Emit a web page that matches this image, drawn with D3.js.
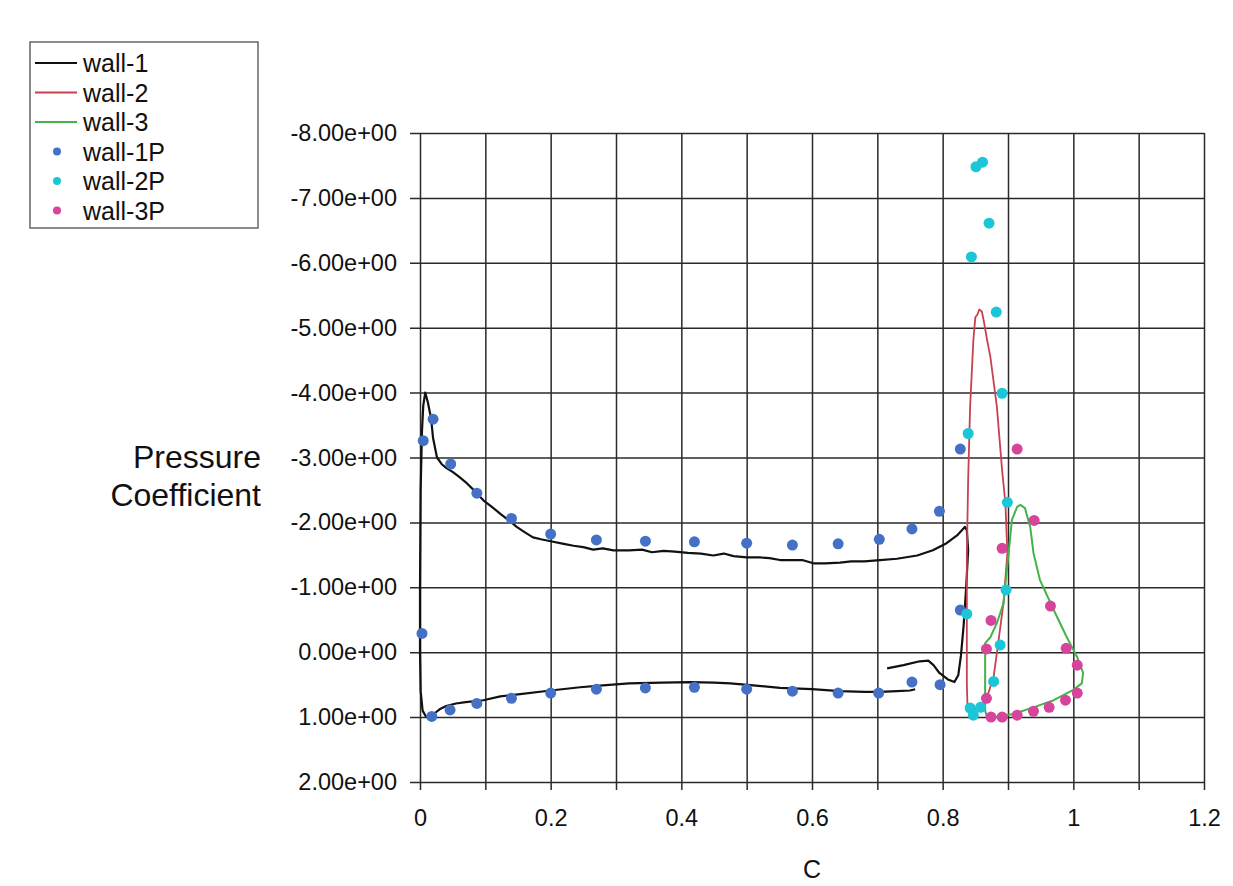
<!DOCTYPE html>
<html>
<head>
<meta charset="utf-8">
<script src="https://cdn.jsdelivr.net/npm/d3@7"></script>
<style>
  body { margin: 0; background: #fff; }
  svg text { font-family: "Liberation Sans", Arial, Helvetica, sans-serif; fill: #111; }
</style>
</head>
<body>
<div id="chart"></div>
<script>
// Tick values and labels (y axis is reversed: negative Cp at the top)
const xTicks = [0, 0.1, 0.2, 0.3, 0.4, 0.5, 0.6, 0.7, 0.8, 0.9, 1.0, 1.1, 1.2];
const xTickLabels = ["0", "", "0.2", "", "0.4", "", "0.6", "", "0.8", "", "1", "", "1.2"];
const yTicks = [-8, -7, -6, -5, -4, -3, -2, -1, 0, 1, 2];
const yTickLabels = ["-8.00e+00", "-7.00e+00", "-6.00e+00", "-5.00e+00", "-4.00e+00",
  "-3.00e+00", "-2.00e+00", "-1.00e+00", "0.00e+00", "1.00e+00", "2.00e+00"];

// wall-1 : main element (computed)
const wall1C = [0.715, 0.74, 0.765, 0.778, 0.786, 0.795, 0.808, 0.818, 0.824, 0.828, 0.832, 0.836, 0.839, 0.837, 0.834,
  0.822, 0.806, 0.785, 0.761, 0.73, 0.704, 0.68, 0.66, 0.643, 0.62, 0.602, 0.585, 0.57, 0.551, 0.535, 0.52, 0.5,
  0.48, 0.465, 0.449, 0.43, 0.41, 0.39, 0.373, 0.355, 0.34, 0.32, 0.296, 0.28, 0.265, 0.25, 0.235, 0.22, 0.2,
  0.185, 0.173, 0.16, 0.148, 0.135, 0.123, 0.11, 0.097, 0.085, 0.072, 0.06, 0.051, 0.04, 0.033, 0.026, 0.02,
  0.017, 0.012, 0.008, 0.005, 0.003, 0.001, 0.0, 0.0, 0.001, 0.004, 0.009, 0.014, 0.02, 0.03, 0.04, 0.055,
  0.07, 0.097, 0.123, 0.15, 0.2, 0.245, 0.28, 0.32, 0.37, 0.413, 0.45, 0.475, 0.51, 0.551, 0.6, 0.643, 0.68,
  0.704, 0.73, 0.75, 0.758];
const wall1Cp = [0.25, 0.2, 0.14, 0.13, 0.2, 0.32, 0.42, 0.46, 0.35, 0.05, -0.4, -1.0, -1.57, -1.88, -1.93,
  -1.8, -1.68, -1.57, -1.49, -1.44, -1.42, -1.40, -1.40, -1.38, -1.37, -1.37, -1.42, -1.42, -1.42, -1.45, -1.46, -1.46,
  -1.48, -1.52, -1.49, -1.52, -1.53, -1.55, -1.56, -1.54, -1.58, -1.57, -1.57, -1.6, -1.58, -1.62, -1.64, -1.67, -1.71,
  -1.74, -1.77, -1.85, -1.93, -2.04, -2.13, -2.24, -2.34, -2.47, -2.6, -2.7, -2.77, -2.84, -2.9, -3.0, -3.3,
  -3.6, -3.85, -4.0, -3.8, -3.4, -2.5, -1.0, 0.0, 0.6, 0.9, 0.99, 1.0, 0.96, 0.88, 0.83, 0.79,
  0.77, 0.74, 0.68, 0.65, 0.59, 0.54, 0.51, 0.48, 0.47, 0.46, 0.47, 0.48, 0.51, 0.55, 0.57, 0.6, 0.61,
  0.61, 0.6, 0.59, 0.57];

// wall-2 : slat / vane (computed)
const wall2C = [0.842, 0.85, 0.858, 0.868, 0.878, 0.885, 0.893, 0.899, 0.896, 0.891, 0.883, 0.873, 0.868, 0.863,
  0.86, 0.856, 0.853, 0.85, 0.847, 0.842, 0.839, 0.837, 0.837, 0.837, 0.838, 0.842];
const wall2Cp = [0.88, 0.88, 0.85, 0.69, 0.38, -0.14, -0.75, -1.52, -2.3, -2.8, -3.78, -4.55, -4.81, -5.1,
  -5.25, -5.28, -5.2, -5.16, -4.81, -3.78, -2.65, -1.5, -0.5, 0.5, 0.82, 0.88];

// wall-3 : flap (computed)
const wall3C = [0.865, 0.865, 0.873, 0.883, 0.893, 0.901, 0.906, 0.914, 0.919, 0.926, 0.934, 0.939, 0.949, 0.97,
  0.99, 1.006, 1.015, 1.013, 1.0, 0.97, 0.939, 0.909, 0.883, 0.868, 0.865, 0.865];
const wall3Cp = [0.79, -0.14, -0.23, -0.45, -0.75, -1.53, -2.04, -2.24, -2.27, -2.22, -1.93, -1.53, -1.11, -0.65,
  -0.23, 0.08, 0.32, 0.48, 0.58, 0.74, 0.85, 0.95, 1.0, 1.0, 0.9, 0.79];

// measured pressures
const wall1PC = [0.005, 0.02, 0.047, 0.087, 0.14, 0.2, 0.27, 0.345, 0.42, 0.5, 0.57, 0.64, 0.703, 0.753, 0.795, 0.827,
  0.003, 0.018, 0.046, 0.087, 0.14, 0.2, 0.27, 0.345, 0.42, 0.5, 0.57, 0.64, 0.702, 0.753, 0.796, 0.827];
const wall1PCp = [-3.26, -3.59, -2.9, -2.45, -2.06, -1.82, -1.73, -1.71, -1.70, -1.68, -1.65, -1.67, -1.74, -1.90, -2.17, -3.13,
  -0.29, 0.99, 0.89, 0.79, 0.71, 0.63, 0.57, 0.55, 0.54, 0.57, 0.60, 0.63, 0.63, 0.46, 0.50, -0.65];

const wall2PC = [0.851, 0.861, 0.871, 0.844, 0.882, 0.891, 0.839, 0.899, 0.897, 0.837, 0.888, 0.878, 0.858, 0.842, 0.847];
const wall2PCp = [-7.48, -7.55, -6.61, -6.09, -5.24, -3.99, -3.37, -2.31, -0.96, -0.59, -0.11, 0.45, 0.85, 0.86, 0.97];

const wall3PC = [0.914, 0.940, 0.891, 0.965, 0.874, 0.989, 0.867, 1.006, 1.006, 0.867, 0.988, 0.963, 0.939, 0.914, 0.891, 0.874];
const wall3PCp = [-3.13, -2.03, -1.6, -0.71, -0.49, -0.06, -0.05, 0.2, 0.63, 0.71, 0.74, 0.85, 0.91, 0.97, 1.0, 1.0];

const legendNames = ["wall-1", "wall-2", "wall-3", "wall-1P", "wall-2P", "wall-3P"];

// colours
const lineColors = { "wall-1": "#111111", "wall-2": "#c8424e", "wall-3": "#46b34a" };
const dotColors = { "wall-1P": "#4471c6", "wall-2P": "#1cc6d6", "wall-3P": "#d6449c" };

// zip two arrays into point objects
function zip(cs, cps) {
  return cs.map((c, i) => ({ c: c, cp: cps[i] }));
}

var svgWidth = 1233;
var svgHeight = 886;

// plot area edges in pixels
var plotLeft = 420, plotRight = 1204, plotTop = 133, plotBottom = 782;

var svg = d3.select("#chart").append("svg")
  .attr("width", svgWidth)
  .attr("height", svgHeight);

var xScale = d3.scaleLinear().domain([0, 1.2]).range([plotLeft, plotRight]);
var yScale = d3.scaleLinear().domain([-8, 2]).range([plotTop, plotBottom]);

// y axis with gridlines running across the plot
var yAxis = d3.axisLeft(yScale)
  .tickValues(yTicks)
  .tickFormat((d, i) => yTickLabels[i])
  .tickSize(-(plotRight - plotLeft + 10))
  .tickPadding(13);

svg.append("g")
  .attr("transform", `translate(${plotLeft - 10},0)`)
  .call(yAxis)
  .call(g => g.select(".domain").remove())
  .call(g => g.selectAll(".tick line").attr("stroke", "#2a2a2a").attr("stroke-width", 1.5))
  .call(g => g.selectAll(".tick text").attr("font-size", "23.5px").attr("fill", "#111"));

// x axis with gridlines every 0.1
var xAxis = d3.axisBottom(xScale)
  .tickValues(xTicks)
  .tickFormat((d, i) => xTickLabels[i])
  .tickSize(-(plotBottom + 8 - plotTop))
  .tickPadding(19);

svg.append("g")
  .attr("transform", `translate(0,${plotBottom + 8})`)
  .call(xAxis)
  .call(g => g.select(".domain").remove())
  .call(g => g.selectAll(".tick line").attr("stroke", "#2a2a2a").attr("stroke-width", 1.5))
  .call(g => g.selectAll(".tick text").attr("font-size", "23.5px").attr("fill", "#111"));

// axis titles
svg.append("text")
  .attr("x", 261).attr("y", 468)
  .attr("text-anchor", "end")
  .attr("font-size", "32px")
  .text("Pressure");
svg.append("text")
  .attr("x", 261).attr("y", 506)
  .attr("text-anchor", "end")
  .attr("font-size", "32px")
  .text("Coefficient");
svg.append("text")
  .attr("x", xScale(0.6)).attr("y", 878)
  .attr("text-anchor", "middle")
  .attr("font-size", "25px")
  .text("C");

// curves
var line = d3.line()
  .x(d => xScale(d.c))
  .y(d => yScale(d.cp));

var curves = [
  { name: "wall-1", pts: zip(wall1C, wall1Cp), w: 2.2 },
  { name: "wall-2", pts: zip(wall2C, wall2Cp), w: 1.8 },
  { name: "wall-3", pts: zip(wall3C, wall3Cp), w: 2.0 }
];

svg.append("g").selectAll("path")
  .data(curves)
  .enter()
  .append("path")
  .attr("d", d => line(d.pts))
  .attr("fill", "none")
  .attr("stroke", d => lineColors[d.name])
  .attr("stroke-width", d => d.w)
  .attr("stroke-linejoin", "round");

// measured points
var dotSets = [
  { name: "wall-1P", pts: zip(wall1PC, wall1PCp) },
  { name: "wall-2P", pts: zip(wall2PC, wall2PCp) },
  { name: "wall-3P", pts: zip(wall3PC, wall3PCp) }
];

dotSets.forEach(function(set) {
  svg.append("g").selectAll("circle")
    .data(set.pts)
    .enter()
    .append("circle")
    .attr("cx", d => xScale(d.c))
    .attr("cy", d => yScale(d.cp))
    .attr("r", 5.5)
    .attr("fill", dotColors[set.name]);
});

// legend
var legend = svg.append("g").attr("transform", "translate(30,42)");
legend.append("rect")
  .attr("width", 228).attr("height", 186)
  .attr("fill", "#fff")
  .attr("stroke", "#666")
  .attr("stroke-width", 1.5);

var rows = legend.selectAll("g.row")
  .data(legendNames)
  .enter()
  .append("g")
  .attr("class", "row")
  .attr("transform", (d, i) => `translate(0,${21 + i * 29.5})`);

rows.filter(d => lineColors[d])
  .append("line")
  .attr("x1", 5).attr("x2", 47)
  .attr("y1", 0).attr("y2", 0)
  .attr("stroke", d => lineColors[d])
  .attr("stroke-width", 1.8);

rows.filter(d => dotColors[d])
  .append("circle")
  .attr("cx", 27).attr("cy", 0)
  .attr("r", 4)
  .attr("fill", d => dotColors[d]);

rows.append("text")
  .attr("x", 53).attr("y", 9)
  .attr("font-size", "25px")
  .text(d => d);
</script>
</body>
</html>
